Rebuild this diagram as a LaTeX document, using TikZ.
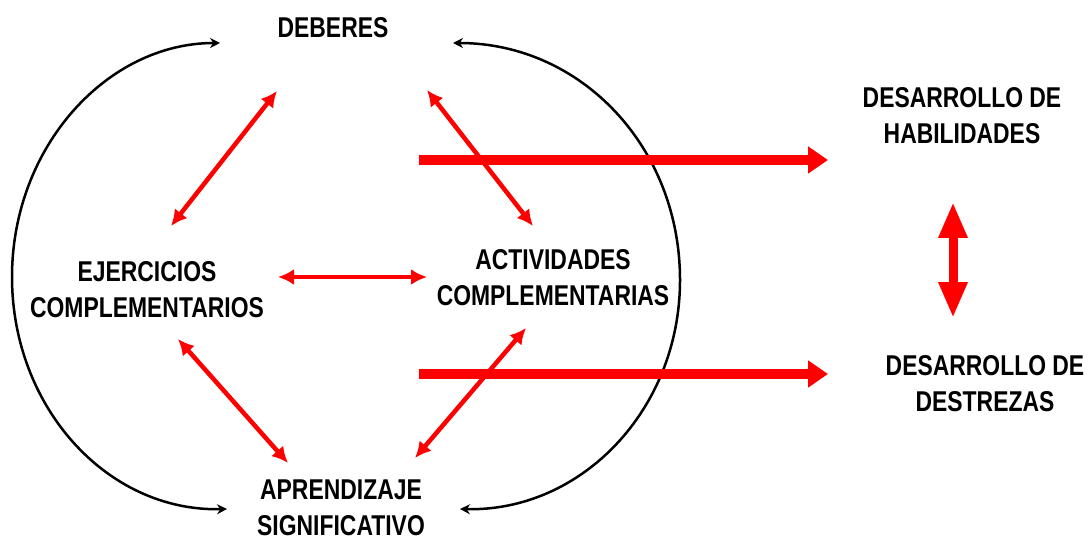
\documentclass[tikz,border=0pt]{standalone}
\usepackage{fontspec}
\setmainfont{Liberation Sans}[FakeStretch=0.8]
\usetikzlibrary{positioning,arrows.meta}

\begin{document}
\begin{tikzpicture}[x=0.02cm,y=-0.02cm,
    txt/.style={font=\bfseries\fontsize{16.3}{20.5}\selectfont, align=center, inner sep=0pt},
    rel/.style={draw=red, line width=0.09cm, >={Latex[length=0.32cm,width=0.32cm]}, <->},
    loop/.style={draw=black, line width=0.05cm, >={Stealth[length=0.2cm,width=0.2cm]}, <->},
    big/.style={draw=red, line width=0.2cm, -{Triangle[length=0.4cm,width=0.52cm]}},
    both/.style={draw=red, line width=0.18cm, {Triangle[length=0.72cm,width=0.54cm]}-{Triangle[length=0.72cm,width=0.54cm]}}]
    \useasboundingbox (0,0) rectangle (1091,540);

    %Nodes
    \node[txt] at (333,28) (deberes) {DEBERES};
    \node[txt] at (147,290) (ejercicios) {EJERCICIOS\\COMPLEMENTARIOS};
    \node[txt] at (553,278) (actividades) {ACTIVIDADES\\COMPLEMENTARIAS};
    \node[txt] at (341,508) (aprendizaje) {APRENDIZAJE\\SIGNIFICATIVO};
    \node[txt] at (962,116) (habilidades) {DESARROLLO DE\\HABILIDADES};
    \node[txt] at (985,384) (destrezas) {DESARROLLO DE\\DESTREZAS};

    %Ends
    \coordinate (dE) at (277,91);
    \coordinate (eD) at (171,226);
    \coordinate (dA) at (427,90);
    \coordinate (aD) at (533,226);
    \coordinate (eA) at (278,277);
    \coordinate (aE) at (427,277);
    \coordinate (eP) at (178,339);
    \coordinate (pE) at (288,463);
    \coordinate (aP) at (526,328);
    \coordinate (pA) at (415,458);
    \coordinate (h0) at (419,160);
    \coordinate (h1) at (828,160);
    \coordinate (s0) at (419,374);
    \coordinate (s1) at (828,374);
    \coordinate (hS) at (953,202);
    \coordinate (sH) at (953,318);
    \coordinate (lt) at (220,43);
    \coordinate (lb) at (227,509);
    \coordinate (rt) at (453,43);
    \coordinate (rb) at (460,509);

    %Lines
    \draw[loop] (lt) .. controls (107,43) and (12,147) .. (12,277)
        .. controls (12,407) and (107,512) .. (lb);
    \draw[loop] (rt) .. controls (581,43) and (680,147) .. (680,280)
        .. controls (680,410) and (581,512) .. (rb);
    \draw[rel] (dE) -- (eD);
    \draw[rel] (dA) -- (aD);
    \draw[rel] (eA) -- (aE);
    \draw[rel] (eP) -- (pE);
    \draw[rel] (aP) -- (pA);
    \draw[big] (h0) -- (h1);
    \draw[big] (s0) -- (s1);
    \draw[both] (hS) -- (sH);
\end{tikzpicture}
\end{document}
